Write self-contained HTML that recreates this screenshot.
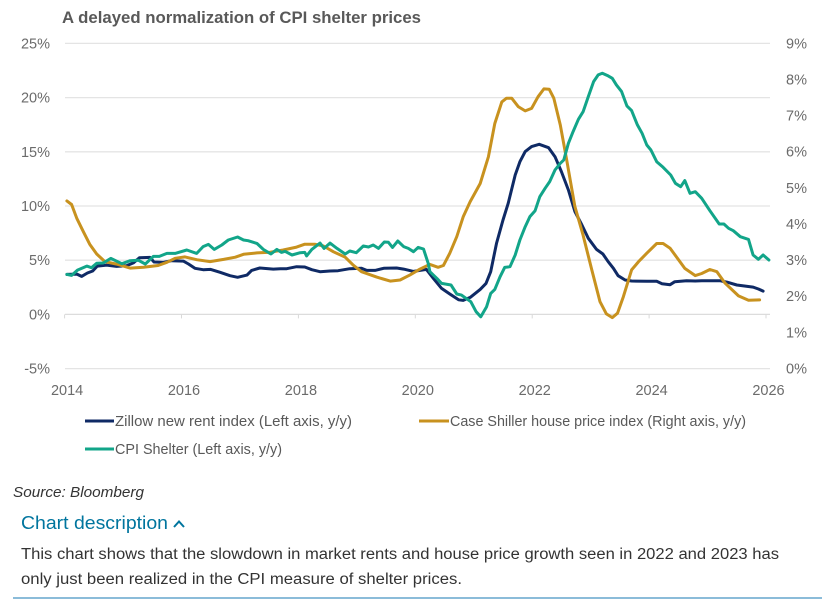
<!DOCTYPE html>
<html lang="en">
<head>
<meta charset="utf-8">
<title>A delayed normalization of CPI shelter prices</title>
<style>
html,body{margin:0;padding:0;background:#fff;width:822px;height:607px;overflow:hidden}
svg{display:block;position:absolute;left:0;top:0}
text{font-family:"Liberation Sans",sans-serif}
</style>
</head>
<body>
<svg id="chart" width="822" height="607" viewBox="0 0 822 607" xmlns="http://www.w3.org/2000/svg">
  <text x="62" y="23" font-size="17" font-weight="bold" fill="#595959" textLength="359" lengthAdjust="spacingAndGlyphs">A delayed normalization of CPI shelter prices</text>
  <g id="grid"></g>
  <g id="ticks"></g>
  <g id="left"></g>
  <g id="right"></g>
  <g id="series"></g>

  <g>
    <line x1="85" x2="114" y1="421" y2="421" stroke="#0f2a65" stroke-width="3"/>
    <text x="115" y="426" font-size="14.5" fill="#595959" textLength="237" lengthAdjust="spacingAndGlyphs">Zillow new rent index (Left axis, y/y)</text>
  </g>
  <g>
    <line x1="419" x2="449" y1="421" y2="421" stroke="#c8921f" stroke-width="3"/>
    <text x="450" y="426" font-size="14.5" fill="#595959" textLength="296" lengthAdjust="spacingAndGlyphs">Case Shiller house price index (Right axis, y/y)</text>
  </g>
  <g>
    <line x1="85" x2="114" y1="449" y2="449" stroke="#12a589" stroke-width="3"/>
    <text x="115" y="454" font-size="14.5" fill="#595959" textLength="167" lengthAdjust="spacingAndGlyphs">CPI Shelter (Left axis, y/y)</text>
  </g>

  <text x="13" y="497" font-size="14.5" font-style="italic" fill="#333" textLength="131" lengthAdjust="spacingAndGlyphs">Source: Bloomberg</text>
  <text x="21" y="529" font-size="18.5" fill="#00759e" textLength="147" lengthAdjust="spacingAndGlyphs">Chart description</text>
  <path d="M174 527 L179 521.5 L184 527" fill="none" stroke="#00759e" stroke-width="2"/>
  <text x="21" y="559" font-size="15.5" fill="#333" textLength="758" lengthAdjust="spacingAndGlyphs">This chart shows that the slowdown in market rents and house price growth seen in 2022 and 2023 has</text>
  <text x="21" y="584" font-size="15.5" fill="#333" textLength="441" lengthAdjust="spacingAndGlyphs">only just been realized in the CPI measure of shelter prices.</text>
  <rect x="13" y="597" width="809" height="2" fill="#8bbcd9"/>
</svg>
<script>
const xTicks = [2014, 2016, 2018, 2020, 2022, 2024, 2026];
const leftTicks = [25, 20, 15, 10, 5, 0, -5];
const rightTicks = [9, 8, 7, 6, 5, 4, 3, 2, 1, 0];

const zillowYears = [2014.04,2014.21,2014.29,2014.39,2014.48,2014.56,2014.72,2014.89,2015.06,2015.18,2015.28,2015.46,2015.53,2015.69,2015.83,2016.03,2016.12,2016.23,2016.37,2016.5,2016.66,2016.83,2016.96,2017.12,2017.2,2017.34,2017.57,2017.69,2017.8,2017.97,2018.11,2018.23,2018.37,2018.54,2018.68,2018.88,2019.08,2019.17,2019.31,2019.46,2019.68,2019.8,2019.97,2020.19,2020.31,2020.45,2020.59,2020.74,2020.82,2020.94,2021.11,2021.21,2021.29,2021.39,2021.5,2021.59,2021.71,2021.79,2021.88,2021.99,2022.12,2022.28,2022.39,2022.5,2022.62,2022.73,2022.85,2022.96,2023.1,2023.21,2023.3,2023.39,2023.47,2023.59,2023.7,2023.96,2024.13,2024.22,2024.36,2024.44,2024.64,2024.79,2024.9,2025.21,2025.33,2025.5,2025.78,2025.87,2025.95];
const zillowValues = [3.69,3.72,3.51,3.82,4.0,4.46,4.55,4.43,4.49,4.77,5.23,5.26,4.83,4.8,4.95,4.92,4.65,4.25,4.12,4.15,3.88,3.57,3.42,3.63,4.06,4.28,4.18,4.22,4.22,4.4,4.37,4.12,3.94,4.0,4.03,4.22,4.25,4.06,4.06,4.25,4.28,4.18,3.97,4.15,3.32,2.4,1.88,1.35,1.29,1.57,2.31,2.86,3.94,6.55,8.71,10.25,12.86,14.09,15.02,15.48,15.69,15.38,14.55,13.17,11.48,9.48,8.25,7.02,6.0,5.57,4.86,4.25,3.57,3.17,3.08,3.05,3.05,2.83,2.74,3.02,3.11,3.08,3.11,3.11,2.98,2.71,2.52,2.34,2.15];

const caseShillerYears = [2014.04,2014.12,2014.21,2014.32,2014.43,2014.55,2014.69,2014.89,2015.12,2015.35,2015.6,2015.75,2015.89,2016.06,2016.26,2016.49,2016.72,2016.92,2017.06,2017.29,2017.52,2017.74,2017.97,2018.11,2018.28,2018.43,2018.6,2018.8,2018.94,2019.08,2019.34,2019.57,2019.74,2019.91,2020.08,2020.25,2020.39,2020.48,2020.59,2020.71,2020.82,2020.94,2021.11,2021.25,2021.36,2021.48,2021.56,2021.65,2021.76,2021.88,2021.99,2022.1,2022.2,2022.29,2022.37,2022.48,2022.59,2022.73,2022.87,2023.02,2023.16,2023.27,2023.37,2023.46,2023.56,2023.7,2023.82,2023.96,2024.13,2024.24,2024.36,2024.61,2024.79,2024.9,2025.04,2025.16,2025.3,2025.53,2025.7,2025.89];
const caseShillerValues = [4.64,4.54,4.15,3.79,3.44,3.17,2.96,2.89,2.78,2.8,2.85,2.94,3.05,3.09,3.01,2.96,3.02,3.08,3.16,3.2,3.22,3.28,3.36,3.44,3.44,3.39,3.23,3.08,2.86,2.68,2.53,2.42,2.45,2.59,2.75,2.88,2.8,2.85,3.19,3.65,4.2,4.62,5.12,5.86,6.78,7.38,7.48,7.48,7.25,7.13,7.2,7.52,7.74,7.73,7.48,6.74,5.77,4.48,3.69,2.73,1.85,1.51,1.41,1.53,1.99,2.73,2.96,3.19,3.46,3.46,3.33,2.77,2.57,2.63,2.74,2.68,2.36,2.01,1.89,1.9];

const cpiYears = [2014.04,2014.12,2014.22,2014.38,2014.46,2014.55,2014.66,2014.79,2014.98,2015.12,2015.26,2015.38,2015.52,2015.62,2015.75,2015.89,2016.09,2016.26,2016.37,2016.46,2016.56,2016.69,2016.8,2016.96,2017.06,2017.14,2017.29,2017.4,2017.53,2017.63,2017.71,2017.77,2017.89,2018.03,2018.11,2018.14,2018.23,2018.37,2018.44,2018.54,2018.66,2018.8,2018.88,2018.99,2019.11,2019.2,2019.28,2019.37,2019.47,2019.54,2019.61,2019.7,2019.8,2019.88,2019.97,2020.05,2020.14,2020.22,2020.25,2020.37,2020.45,2020.61,2020.71,2020.79,2020.95,2021.04,2021.12,2021.22,2021.29,2021.36,2021.45,2021.53,2021.62,2021.71,2021.79,2021.88,2021.96,2022.05,2022.13,2022.22,2022.3,2022.39,2022.48,2022.54,2022.62,2022.7,2022.79,2022.87,2022.96,2023.05,2023.13,2023.2,2023.3,2023.37,2023.44,2023.53,2023.62,2023.7,2023.8,2023.88,2023.96,2024.03,2024.13,2024.24,2024.37,2024.45,2024.54,2024.61,2024.7,2024.79,2024.9,2025.04,2025.2,2025.28,2025.36,2025.44,2025.56,2025.7,2025.78,2025.87,2025.95,2026.05];
const cpiValues = [3.69,3.6,4.09,4.46,4.31,4.71,4.74,5.17,4.68,4.95,5.0,4.65,5.35,5.35,5.63,5.63,5.94,5.63,6.25,6.46,6.0,6.4,6.86,7.14,6.86,6.8,6.55,6.0,5.57,6.0,5.72,5.82,5.48,5.69,5.72,5.4,6.0,6.58,6.09,6.58,6.09,5.57,5.85,5.69,6.31,6.22,6.4,6.09,6.68,6.65,6.18,6.77,6.25,6.09,5.78,6.18,6.03,4.71,3.94,3.32,2.86,2.71,1.88,1.78,1.17,0.25,-0.22,0.71,1.94,2.31,3.48,4.34,4.4,5.48,6.86,8.09,9.02,9.57,10.86,11.63,12.25,13.32,13.94,14.25,15.78,16.86,18.0,18.7,20.09,21.48,22.09,22.25,22.0,21.78,21.17,20.55,19.23,18.8,17.48,16.71,15.63,15.17,14.09,13.57,12.86,12.09,11.78,12.34,11.17,11.32,10.71,9.57,8.34,8.34,7.94,7.72,7.17,6.92,5.48,5.08,5.48,5.02];

const NS = 'http://www.w3.org/2000/svg';
function xScale(year) { return 64.6 + (year - 2014) * 58.45; }
function yLeft(v) { return 314.4 - v * 10.84; }
function yRight(v) { return 368.5 - v * 36.13; }
function make(tag, parent, attrs, text) {
  const el = document.createElementNS(NS, tag);
  for (const k in attrs) el.setAttribute(k, attrs[k]);
  if (text !== undefined) el.textContent = text;
  document.getElementById(parent).appendChild(el);
  return el;
}
const labelStyle = { 'font-size': 14.5, fill: '#6b6b6b' };

leftTicks.forEach(function (v) {
  const line = make('line', 'grid', { x1: 65, x2: 770, y1: yLeft(v), y2: yLeft(v), stroke: v === 0 ? '#dcdcdc' : '#e4e4e4', 'stroke-width': 1.3 });
  
  
  const t = make('text', 'left', Object.assign({ x: 50, y: yLeft(v) + 5, 'text-anchor': 'end' }, labelStyle), v + '%');
  
  
});
rightTicks.forEach(function (v) {
  const t = make('text', 'right', Object.assign({ x: 786, y: yRight(v) + 5 }, labelStyle), v + '%');
  
  
});
xTicks.forEach(function (y) {
  const tick = make('line', 'ticks', { x1: xScale(y), x2: xScale(y), y1: yLeft(0), y2: yLeft(0) + 4, stroke: '#d9d9d9', 'stroke-width': 1 });
  
  
  const t = make('text', 'ticks', Object.assign({ x: xScale(y) + 2.5, y: 395, 'text-anchor': 'middle' }, labelStyle), String(y));
  
  
});
function drawLine(years, values, yFn, color) {
  const pts = years.map(function (y, i) { return xScale(y).toFixed(1) + ',' + yFn(values[i]).toFixed(1); }).join(' ');
  return make('polyline', 'series', { points: pts, fill: 'none', stroke: color, 'stroke-width': 3, 'stroke-linejoin': 'round', 'stroke-linecap': 'round' });
}
const lineZillow = drawLine(zillowYears, zillowValues, yLeft, '#0f2a65');


const lineCase = drawLine(caseShillerYears, caseShillerValues, yRight, '#c8921f');


const lineCpi = drawLine(cpiYears, cpiValues, yLeft, '#12a589');


</script>
</body>
</html>
